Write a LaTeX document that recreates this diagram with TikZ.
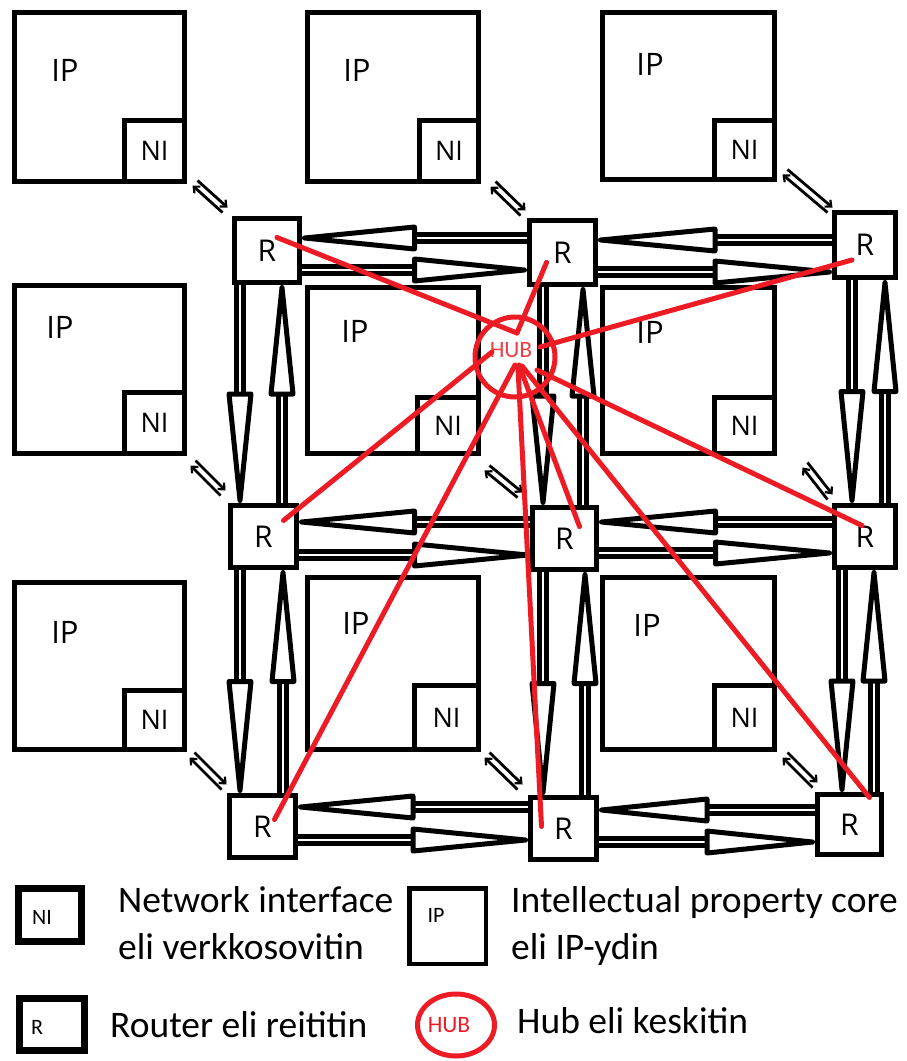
\documentclass[tikz,border=0pt]{standalone}
\usepackage{fontspec}
\setmainfont{Carlito}
\newfontfamily\uifont{Open Sans}
\usetikzlibrary{calc,arrows.meta,shapes.geometric}
\definecolor{paintred}{RGB}{237,28,36}

\tikzset{
  frame/.style={draw=black, line width=5pt, inner sep=0pt},
  ipbox/.style={frame},
  nibox/.style={frame, fill=white},
  router/.style={frame, fill=white, font=\uifont\fontsize{30}{32}\selectfont},
  iplabel/.style={font=\uifont\fontsize{31}{33}\selectfont, inner sep=0pt},
  nilabel/.style={font=\uifont\fontsize{27}{29}\selectfont, inner sep=0pt},
  shaft/.style={line width=5pt},
  headst/.style={draw=black, line width=5pt, fill=white, line join=round},
  hubline/.style={draw=paintred, line width=5pt, line cap=round},
  nisig/.style={line width=2.8pt, -{Straight Barb[length=5pt,width=9pt,line width=2.2pt]}},
  legtext/.style={anchor=base west, font=\fontsize{37.5}{40}\selectfont, inner sep=0pt},
  legsmall/.style={font=\fontsize{22}{24}\selectfont, inner sep=0pt},
}

% box node given by its outer corners (x1,y1) (x2,y2), for a 5pt frame
\newcommand\boxnode[7]{%
  \pgfmathsetmacro\boxW{#5-#3-5}\pgfmathsetmacro\boxH{#6-#4-5}%
  \node[#1, minimum width=\boxW pt, minimum height=\boxH pt] (#2)
    at ({(#3+#5)/2},{(#4+#6)/2}) {#7};}

% one direction of a router link: double shaft to the middle, long head to the target
\newcommand\flow[2]{%
  \coordinate (fT) at #1; \coordinate (fH) at #2;
  \coordinate (fM) at ($(fT)!0.5!(fH)$);
  \draw[shaft] ($(fT)!3.3pt!90:(fH)$) -- ($(fM)!3.3pt!-90:(fT)$);
  \draw[shaft] ($(fT)!3.3pt!-90:(fH)$) -- ($(fM)!3.3pt!90:(fT)$);
  \draw[headst] ($(fM)!11pt!90:(fH)$) -- ($(fH)!2.5pt!(fM)$) -- ($(fM)!11pt!-90:(fH)$) -- cycle;
}

% small two-way link between a network interface and a router corner
\newcommand\nilink[5]{%
  \draw[nisig] ([shift={({#2+2.5},{#3-2.5})}]#1.north west) -- ([shift={({#4+2.5},{#5-2.5})}]#1.north west);
  \draw[nisig] ([shift={({#4-2.5},{#5+2.5})}]#1.north west) -- ([shift={({#2-2.5},{#3+2.5})}]#1.north west);
}

\begin{document}
\begin{tikzpicture}[x=1pt, y=-1pt]
\useasboundingbox (0,0) rectangle (906,1061);

% IP cores
\boxnode{ipbox}{a1}{12}{10}{187}{184}{}
\boxnode{ipbox}{a2}{305}{10}{481}{184}{}
\boxnode{ipbox}{a3}{600}{10}{777}{182}{}
\boxnode{ipbox}{b1}{12}{283}{187}{456}{}
\boxnode{ipbox}{b2}{305}{285}{481}{456}{}
\boxnode{ipbox}{b3}{600}{285}{777}{456}{}
\boxnode{ipbox}{c1}{12}{580}{187}{752}{}
\boxnode{ipbox}{c2}{305}{575}{481}{752}{}
\boxnode{ipbox}{c3}{600}{575}{777}{752}{}

\node[iplabel] (ta1) at (65,70) {IP};
\node[iplabel] (ta2) at (357,70) {IP};
\node[iplabel] (ta3) at (650,64) {IP};
\node[iplabel] (tb1) at (60,327) {IP};
\node[iplabel] (tb2) at (355,331) {IP};
\node[iplabel] (tb3) at (650,332) {IP};
\node[iplabel] (tc1) at (65,632) {IP};
\node[iplabel] (tc2) at (356,623) {IP};
\node[iplabel] (tc3) at (647,625) {IP};

% network interfaces
\boxnode{nibox,nilabel,line width=5pt}{na1}{122}{118}{187}{184}{NI}
\boxnode{nibox,nilabel,line width=5pt}{na2}{417}{118}{481}{184}{NI}
\boxnode{nibox,nilabel,line width=5pt}{na3}{712}{118}{777}{182}{NI}
\boxnode{nibox,nilabel,line width=5pt}{nb1}{122}{390}{187}{456}{NI}
\boxnode{nibox,nilabel,line width=5pt}{nb2}{415}{395}{481}{456}{NI}
\boxnode{nibox,nilabel,line width=5pt}{nb3}{712}{395}{777}{456}{NI}
\boxnode{nibox,nilabel,line width=5pt}{nc1}{122}{688}{187}{752}{NI}
\boxnode{nibox,nilabel,line width=5pt}{nc2}{412}{683}{481}{752}{NI}
\boxnode{nibox,nilabel,line width=5pt}{nc3}{712}{683}{777}{752}{NI}

% routers
\boxnode{router}{r1}{232}{216}{302}{285}{R}
\boxnode{router}{r2}{527}{218}{598}{287}{R}
\boxnode{router}{r3}{832}{210}{898}{280}{R}
\boxnode{router}{r4}{228}{503}{299}{570}{R}
\boxnode{router}{r5}{530}{505}{599}{572}{R}
\boxnode{router}{r6}{832}{503}{898}{570}{R}
\boxnode{router}{r7}{227}{793}{298}{860}{R}
\boxnode{router}{r8}{528}{795}{599}{862}{R}
\boxnode{router}{r9}{815}{792}{884}{857}{R}

% horizontal links
\flow{(r2.west |- 0,238)}{(r1.east |- 0,238)}
\flow{(r1.east |- 0,270)}{(r2.west |- 0,270)}
\flow{(r3.west |- 0,240)}{(r2.east |- 0,240)}
\flow{(r2.east |- 0,272)}{(r3.west |- 0,272)}
\flow{(r5.west |- 0,522)}{(r4.east |- 0,522)}
\flow{(r4.east |- 0,555)}{(r5.west |- 0,555)}
\flow{(r6.west |- 0,522)}{(r5.east |- 0,522)}
\flow{(r5.east |- 0,553)}{(r6.west |- 0,553)}
\flow{(r8.west |- 0,807)}{(r7.east |- 0,807)}
\flow{(r7.east |- 0,840)}{(r8.west |- 0,840)}
\flow{(r9.west |- 0,810)}{(r8.east |- 0,810)}
\flow{(r8.east |- 0,842)}{(r9.west |- 0,842)}

% vertical links
\flow{(240,0 |- r1.south)}{(240,0 |- r4.north)}
\flow{(282,0 |- r4.north)}{(282,0 |- r1.south)}
\flow{(240,0 |- r4.south)}{(240,0 |- r7.north)}
\flow{(283,0 |- r7.north)}{(283,0 |- r4.south)}
\flow{(543,0 |- r2.south)}{(543,0 |- r5.north)}
\flow{(583,0 |- r5.north)}{(583,0 |- r2.south)}
\flow{(543,0 |- r5.south)}{(543,0 |- r8.north)}
\flow{(585,0 |- r8.north)}{(585,0 |- r5.south)}
\flow{(852,0 |- r3.south)}{(852,0 |- r6.north)}
\flow{(885,0 |- r6.north)}{(885,0 |- r3.south)}
\flow{(842,0 |- r6.south)}{(842,0 |- r9.north)}
\flow{(874,0 |- r9.north)}{(874,0 |- r6.south)}

% network interface to router links
\nilink{r1}{-37}{-33}{-7}{-6}
\nilink{r2}{-34}{-34}{-4}{-5}
\nilink{r3}{-47}{-38}{-2}{0}
\nilink{r4}{-35}{-40}{-5}{-10}
\nilink{r5}{-43}{-37}{-10}{-10}
\nilink{r6}{-27}{-38}{-2}{-6}
\nilink{r7}{-35}{-38}{-3}{-6}
\nilink{r8}{-41}{-40}{-8}{-8}
\nilink{r9}{-30}{-37}{0}{-7}

% hub and its links
\node[draw=paintred, line width=5pt, circle, minimum size=80pt, inner sep=0pt] (hub) at (515,357) {};
\node[text=paintred!85!white, font=\fontsize{23.5}{24}\selectfont, inner sep=0pt] (hubt) at (511,350) {HUB};
\draw[hubline] ([shift={(10,-13)}]r1.center) -- ([shift={(2,-24)}]hub.center);
\draw[hubline] ([shift={(-16,10)}]r2.center) -- ([shift={(2,-24)}]hub.center);
\draw[hubline] ([shift={(-13,15)}]r3.center) -- ([shift={(25,-10)}]hub.center);
\draw[hubline] ([shift={(20,-16)}]r4.center) -- ([shift={(-23,-5)}]hub.center);
\draw[hubline] ([shift={(15,-12)}]r5.center) -- ([shift={(4,8)}]hub.center);
\draw[hubline] ([shift={(-3,-11)}]r6.center) -- ([shift={(22,13)}]hub.center);
\draw[hubline] ([shift={(12,-7)}]r7.center) -- ([shift={(0,8)}]hub.center);
\draw[hubline] ([shift={(-22,-2)}]r8.center) -- ([shift={(3,11)}]hub.center);
\draw[hubline] ([shift={(20,-27)}]r9.center) -- ([shift={(7,9)}]hub.center);

% legend
\node[draw, line width=7pt, minimum width=63pt, minimum height=53pt, inner sep=0pt] (lni) at (50,915) {};
\node[legsmall] (lnit) at (42,917) {NI};
\node[legtext] (lni1) at (118,912) {Network interface};
\node[legtext] (lni2) at (118,959) {eli verkkosovitin};

\node[draw, line width=4.5pt, minimum width=76.5pt, minimum height=75.5pt, inner sep=0pt] (lip) at (447.5,926) {};
\node[legsmall] (lipt) at (436,915) {IP};
\node[legtext] (lip1) at (511,912) {Intellectual property core};
\node[legtext] (lip2) at (511,959) {eli IP-ydin};

\node[draw, line width=7pt, minimum width=65pt, minimum height=52pt, inner sep=0pt] (lr) at (52,1024.5) {};
\node[legsmall] (lrt) at (37,1027) {R};
\node[legtext] (lr1) at (110,1037) {Router eli reititin};

\node[draw=paintred, line width=5pt, ellipse, minimum width=77pt, minimum height=62pt, inner sep=0pt] (lhub) at (456,1025) {};
\node[text=paintred, font=\fontsize{23.5}{24}\selectfont, inner sep=0pt] (lhubt) at (449,1025) {HUB};
\node[legtext] (lh1) at (517,1033) {Hub eli keskitin};
\end{tikzpicture}
\end{document}
